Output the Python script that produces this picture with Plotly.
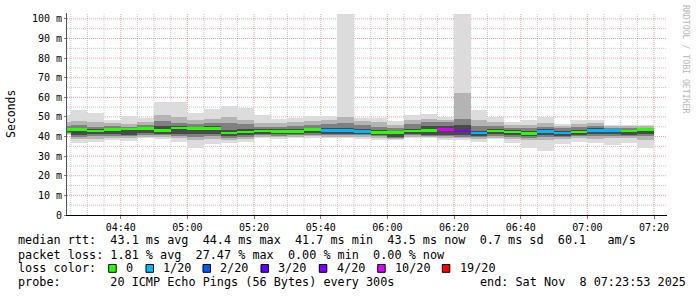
import plotly.graph_objects as go
import pandas as pd

# ---------------- data ----------------
bin_end = list(pd.date_range("2025-11-08 04:25", "2025-11-08 07:20", freq="5min"))

median = [43.7, 43.7, 42.8, 43.5, 43.9, 44.0, 43.0, 44.4, 44.0, 44.0,
          41.8, 42.3, 42.9, 42.5, 42.5, 43.5, 43.0, 43.0, 42.5, 42.1,
          42.2, 42.9, 43.0, 43.7, 42.9, 41.7, 42.9, 42.4, 41.6, 42.7,
          41.9, 42.3, 43.0, 43.0, 42.9, 43.5]
lost = [0, 0, 0, 0, 0, 0, 0, 0, 0, 0,
        0, 0, 0, 0, 0, 0, 1, 1, 1, 0,
        0, 0, 0, 10, 4, 1, 0, 0, 0, 1,
        1, 0, 1, 1, 0, 0]
ping_min = [41.0, 36.6, 37.4, 38.3, 37.8, 39.1, 38.6, 37.2, 34.3, 36.4,
            36.6, 37.2, 39.1, 38.8, 39.1, 39.5, 39.1, 39.1, 38.6, 38.3,
            38.3, 39.1, 39.1, 38.3, 38.3, 37.4, 38.6, 36.9, 34.2, 32.8,
            36.0, 37.4, 36.6, 35.7, 36.6, 34.0]
ping_max = [51.0, 53.6, 51.9, 48.5, 50.5, 49.3, 57.7, 57.7, 52.2, 54.1,
            55.6, 54.7, 51.2, 49.1, 49.7, 50.7, 50.7, 102.5, 49.7, 49.7,
            48.0, 51.0, 51.5, 50.2, 102.5, 53.6, 49.8, 47.6, 48.5, 49.8,
            46.5, 48.5, 48.5, 45.9, 45.9, 45.9]
s2_lo = [41.5, 39.0, 39.0, 39.5, 39.5, 40.0, 40.0, 39.5, 38.0, 39.0,
         38.5, 39.0, 40.0, 40.0, 40.0, 40.5, 40.0, 40.0, 40.0, 39.5,
         39.0, 40.0, 40.0, 39.5, 39.5, 39.0, 39.5, 39.0, 38.0, 38.5,
         39.0, 39.5, 39.0, 39.5, 39.5, 38.5]
s2_hi = [47.5, 48.0, 47.5, 47.0, 46.5, 47.5, 51.0, 50.0, 48.5, 49.0,
         50.0, 48.5, 47.0, 47.0, 47.5, 48.0, 48.5, 50.0, 48.0, 47.5,
         46.0, 48.5, 49.0, 48.5, 62.0, 48.5, 47.5, 46.0, 46.0, 47.0,
         45.5, 46.5, 47.0, 45.5, 45.5, 45.5]
s3_lo = [42.0, 40.0, 40.5, 40.5, 40.5, 41.0, 41.0, 40.5, 40.0, 40.5,
         39.5, 40.0, 41.0, 40.5, 41.0, 41.0, 41.0, 41.0, 41.0, 40.5,
         39.5, 41.0, 40.5, 40.5, 40.0, 40.0, 40.5, 40.0, 39.5, 40.0,
         40.0, 40.5, 40.5, 40.5, 40.5, 40.5]
s3_hi = [45.5, 46.0, 45.0, 45.5, 45.0, 46.0, 48.0, 47.0, 46.5, 47.0,
         47.0, 46.5, 45.0, 45.0, 45.5, 46.0, 46.5, 47.0, 46.0, 45.0,
         44.5, 46.5, 47.5, 47.5, 49.0, 45.5, 45.5, 44.5, 44.5, 45.0,
         44.5, 45.0, 45.5, 44.5, 44.5, 44.5]
s4_lo = [42.5, 41.0, 41.5, 41.5, 41.0, 42.0, 41.5, 41.5, 41.5, 41.5,
         40.5, 41.0, 41.5, 41.5, 41.5, 42.0, 41.5, 41.5, 41.5, 41.0,
         40.0, 41.5, 41.0, 41.0, 41.0, 40.5, 41.5, 41.0, 40.5, 41.0,
         40.5, 41.0, 41.5, 41.5, 41.0, 41.5]
s4_hi = [44.5, 44.5, 43.8, 44.5, 44.5, 45.0, 45.5, 45.5, 45.0, 45.5,
         43.5, 44.0, 44.0, 44.0, 44.0, 44.5, 44.5, 44.5, 44.0, 43.5,
         43.0, 44.0, 45.5, 45.5, 46.0, 43.0, 44.0, 43.5, 43.0, 44.0,
         43.0, 43.5, 44.5, 44.0, 43.5, 44.0]

loss_levels = [0, 1, 2, 3, 4, 10, 19]
loss_labels = ["0", "1/20", "2/20", "3/20", "4/20", "10/20", "19/20"]
loss_colors = ["#26ff00", "#00b8ff", "#0059ff", "#5e00ff", "#7e00ff", "#dd00ff", "#ff0000"]

y_ticks = [0, 10, 20, 30, 40, 50, 60, 70, 80, 90, 100]
y_tick_text = ["0", "10 m", "20 m", "30 m", "40 m", "50 m", "60 m", "70 m", "80 m", "90 m", "100 m"]

stat_lines = [
    "median rtt:  43.1 ms avg  44.4 ms max  41.7 ms min  43.5 ms now  0.7 ms sd  60.1   am/s",
    "packet loss: 1.81 % avg  27.47 % max  0.00 % min  0.00 % now",
]
probe_line = "probe:       20 ICMP Echo Pings (56 Bytes) every 300s"
end_line = "end: Sat Nov  8 07:23:53 2025"

# ---------------- layout constants ----------------
W, H = 697, 297
L, R, T, B = 67, 30, 13, 82
PW, PH = W - L - R, H - T - B
t_start = pd.Timestamp("2025-11-08 04:23:53")
t_end = pd.Timestamp("2025-11-08 07:23:53")
Y_TOP = 103.0
BIN_MS = 300000
MONO = "DejaVu Sans Mono"

def px2x(px):
    return (px - L) / PW

def px2y(py):
    return (H - B - py) / PH

def loss_color(n):
    c = loss_colors[0]
    for lv, col in zip(loss_levels, loss_colors):
        if n >= lv:
            c = col
    return c

fig = go.Figure()

layers = [
    (ping_min, ping_max, "#dcdcdc"),
    (s2_lo, s2_hi, "#b4b4b4"),
    (s3_lo, s3_hi, "#808080"),
    (s4_lo, s4_hi, "#4a4a4a"),
]
for lo, hi, col in layers:
    fig.add_trace(go.Bar(
        x=bin_end, base=lo, y=[h - l for l, h in zip(lo, hi)],
        width=BIN_MS, offset=-BIN_MS, marker=dict(color=col, line=dict(width=0)),
        hoverinfo="skip", showlegend=False))

MED_H = 1.3
fig.add_trace(go.Bar(
    x=bin_end, base=[m - MED_H / 2 for m in median], y=[MED_H] * len(median),
    width=BIN_MS, offset=-BIN_MS,
    marker=dict(color=[loss_color(n) for n in lost], line=dict(width=0)),
    hoverinfo="skip", showlegend=False))

# axis arrows
arrow_col = "#9b1c1c"
fig.add_trace(go.Scatter(
    x=[t_start], y=[Y_TOP + 2.2], mode="markers", cliponaxis=False,
    marker=dict(symbol="triangle-up", size=6, color=arrow_col), hoverinfo="skip", showlegend=False))
fig.add_trace(go.Scatter(
    x=[t_end + pd.Timedelta(seconds=70)], y=[0], mode="markers", cliponaxis=False,
    marker=dict(symbol="triangle-right", size=6, color=arrow_col), hoverinfo="skip", showlegend=False))

shapes = []
minor_col = "rgba(160,160,160,0.6)"
major_col = "rgba(225,100,100,0.6)"
# vertical grid
t = pd.Timestamp("2025-11-08 04:25")
while t <= t_end:
    major = (t.minute % 20 == 0)
    shapes.append(dict(type="line", xref="x", yref="paper", x0=t, x1=t, y0=0, y1=1,
                       line=dict(color=major_col if major else minor_col, width=1, dash="1px,1px"),
                       layer="below"))
    t += pd.Timedelta(minutes=5)
# horizontal grid
for v in range(5, 105, 5):
    major = (v % 10 == 0)
    shapes.append(dict(type="line", xref="paper", yref="y", x0=0, x1=1, y0=v, y1=v,
                       line=dict(color=major_col if major else minor_col, width=1, dash="1px,1px"),
                       layer="below"))

annotations = []
line_cy = [240.5, 254.5, 268.3, 282.3]
for i, s in enumerate(stat_lines):
    annotations.append(dict(text=s.replace(" ", "&nbsp;"), xref="paper", yref="paper",
                            x=px2x(16), y=px2y(line_cy[i]), xanchor="left", yanchor="middle",
                            showarrow=False, font=dict(family=MONO, size=11.8, color="#000")))
annotations.append(dict(text="loss&nbsp;color:", xref="paper", yref="paper",
                        x=px2x(16), y=px2y(line_cy[2]), xanchor="left", yanchor="middle",
                        showarrow=False, font=dict(family=MONO, size=11.8, color="#000")))
box_x = [108.7, 146.0, 203.0, 261.0, 319.3, 377.7, 442.3]
for bx, lab, col in zip(box_x, loss_labels, loss_colors):
    shapes.append(dict(type="rect", xref="paper", yref="paper",
                       x0=px2x(bx), x1=px2x(bx + 7.5), y0=px2y(264.5), y1=px2y(272.3),
                       fillcolor=col, line=dict(color="#000", width=1), layer="above"))
    annotations.append(dict(text=lab, xref="paper", yref="paper",
                            x=px2x(bx + 15.2), y=px2y(line_cy[2]), xanchor="left", yanchor="middle",
                            showarrow=False, font=dict(family=MONO, size=11.8, color="#000")))
annotations.append(dict(text=probe_line.replace(" ", "&nbsp;"), xref="paper", yref="paper",
                        x=px2x(16), y=px2y(line_cy[3]), xanchor="left", yanchor="middle",
                        showarrow=False, font=dict(family=MONO, size=11.8, color="#000")))
annotations.append(dict(text=end_line.replace(" ", "&nbsp;"), xref="paper", yref="paper",
                        x=px2x(478.3), y=px2y(line_cy[3]), xanchor="left", yanchor="middle",
                        showarrow=False, font=dict(family=MONO, size=11.8, color="#000")))
# y title
annotations.append(dict(text="Seconds", xref="paper", yref="paper",
                        x=px2x(11), y=px2y(114), xanchor="center", yanchor="middle",
                        textangle=-90, showarrow=False,
                        font=dict(family=MONO, size=11.5, color="#000")))
# watermark
annotations.append(dict(text="RRDTOOL / TOBI OETIKER".replace(" ", "&nbsp;"), xref="paper", yref="paper",
                        x=px2x(686), y=px2y(59), xanchor="center", yanchor="middle",
                        textangle=90, showarrow=False,
                        font=dict(family=MONO, size=8.2, color="#b8b8b8")))

fig.update_layout(
    width=W, height=H, margin=dict(l=L, r=R, t=T, b=B, pad=0),
    paper_bgcolor="#ffffff", plot_bgcolor="#ffffff",
    barmode="overlay", bargap=0, showlegend=False,
    shapes=shapes, annotations=annotations,
    xaxis=dict(type="date", range=[t_start, t_end], tick0="2025-11-08 04:40", dtick=1200000,
               tickformat="%H:%M", showgrid=False, zeroline=False,
               showline=True, linecolor="#000", linewidth=1,
               ticks="outside", ticklen=3, tickcolor="#c06060",
               tickfont=dict(family=MONO, size=10, color="#000")),
    yaxis=dict(range=[0, Y_TOP], tickvals=y_ticks, ticktext=y_tick_text, showgrid=False,
               zeroline=False, showline=True, linecolor="#555", linewidth=1,
               ticks="outside", ticklen=2, tickcolor="#c06060",
               tickfont=dict(family=MONO, size=10, color="#000")),
)

fig.write_html("out.html")
